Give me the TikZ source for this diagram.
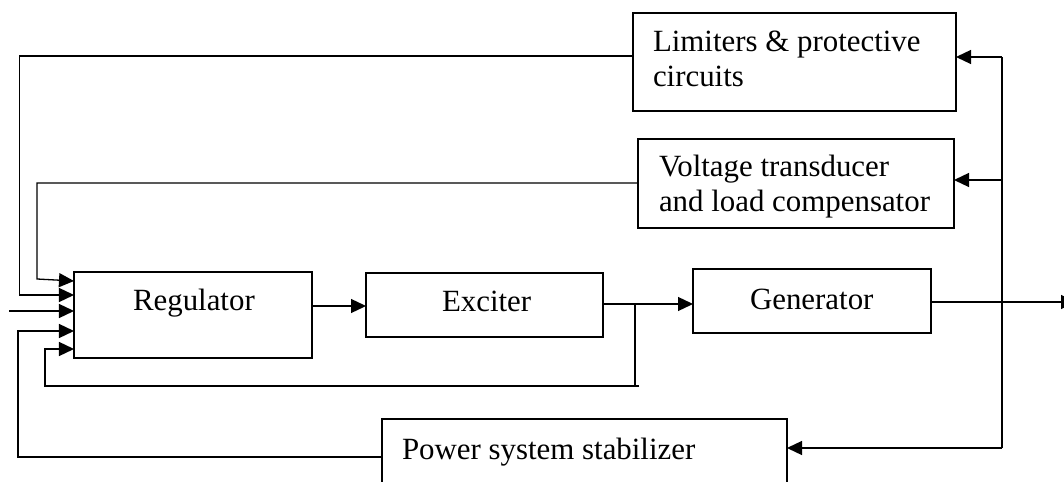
\documentclass[tikz,border=0pt]{standalone}
\usepackage{fontspec}
\setmainfont{Liberation Serif}
\usetikzlibrary{arrows.meta}
\begin{document}
\begin{tikzpicture}[x=1bp,y=-1bp, line width=1.3bp,
 blk/.style={draw, rectangle, inner sep=0pt, outer sep=0pt},
 lbl/.style={anchor=base west, inner sep=0pt, outer sep=0pt, font=\fontsize{31}{35}\selectfont},
 arr/.style={-{Triangle[length=15bp,width=14bp]}},
 wire/.style={line join=miter}]
\useasboundingbox (0,0) rectangle (1064,482);
\clip (0,0) rectangle (1064,482);
% blocks
\node[blk, minimum width=238bp, minimum height=86bp] (reg) at (193,315) {};
\node[blk, minimum width=237bp, minimum height=64bp] (exc) at (484.5,305) {};
\node[blk, minimum width=238bp, minimum height=64bp] (gen) at (812,301) {};
\node[blk, minimum width=323bp, minimum height=98bp] (lim) at (794.5,62) {};
\node[blk, minimum width=316bp, minimum height=89bp] (vt) at (796,183.5) {};
\node[blk, minimum width=405bp, minimum height=91bp] (pss) at (584.5,464.5) {};
% labels
\node[lbl] (tReg) at (133,311) {Regulator};
\node[lbl] (tExc) at (442,312) {Exciter};
\node[lbl] (tGen) at (750,310) {Generator};
\node[lbl] (tLim1) at (653,52) {Limiters \& protective};
\node[lbl] (tLim2) at (653,87) {circuits};
\node[lbl] (tVt1) at (659,177) {Voltage transducer};
\node[lbl] (tVt2) at (659,212) {and load compensator};
\node[lbl] (tPss) at (402,459) {Power system stabilizer};
% junctions and free ends
\coordinate (busTop) at (1002,57);
\coordinate (busMid) at (1002,180);
\coordinate (busGen) at (1002,302);
\coordinate (busBot) at (1002,448);
\coordinate (outEnd) at (1076,302);
\coordinate (ext) at (9,311);
\coordinate (br) at (635,304);
\coordinate (brBot) at (635,386);
% forward path
\draw[arr] (reg.east |- 0,306) -- (exc.west |- 0,306);
\draw[arr] (exc.east |- br) -- (gen.west |- br);
\draw[arr] (gen.east |- busGen) -- (outEnd);
% right bus
\draw[wire] (busTop) -- (busBot);
\draw[arr] (busTop) -- (lim.east |- busTop);
\draw[arr] (busMid) -- (vt.east |- busMid);
\draw[arr] (busBot) -- (pss.east |- busBot);
% feedback to regulator
\draw[arr, wire] (lim.west |- 0,56) -- (19.5,56) -- (19.5,295) -- (reg.west |- 0,295);
\draw[arr, wire] (vt.west |- 0,183) -- (37,183) -- (37,279) -- (reg.west |- 0,281);
\draw[arr] (ext) -- (reg.west |- ext);
\draw[arr, wire] (pss.west |- 0,457) -- (18,457) -- (18,331) -- (reg.west |- 0,331);
\draw (br) -- (brBot);
\draw[arr, wire] (639,386) -- (45,386) -- (45,349) -- (reg.west |- 0,349);
\end{tikzpicture}
\end{document}
